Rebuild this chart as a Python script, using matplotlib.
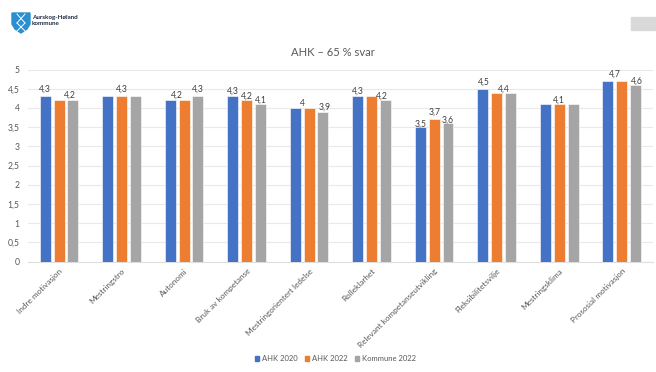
import matplotlib
matplotlib.use("Agg")
import matplotlib.pyplot as plt
from matplotlib.patches import Polygon, Rectangle

plt.rcParams['font.family'] = ['Lato', 'DejaVu Sans']

categories = ["Indre motivasjon", "Mestringstro", "Autonomi", "Bruk av kompetanse",
              "Mestringorientert ledelse", "Rolleklarhet", "Relevant kompetanseutvikling",
              "Fleksibilitetsvilje", "Mestringsklima", "Prososial motivasjon"]
ahk_2020 = [4.3, 4.3, 4.2, 4.3, 4.0, 4.3, 3.5, 4.5, 4.1, 4.7]
ahk_2022 = [4.2, 4.3, 4.2, 4.2, 4.0, 4.3, 3.7, 4.4, 4.1, 4.7]
kommune_2022 = [4.2, 4.3, 4.3, 4.1, 3.9, 4.2, 3.6, 4.4, 4.1, 4.6]
yticks = [0, 0.5, 1, 1.5, 2, 2.5, 3, 3.5, 4, 4.5, 5]

series = [("AHK 2020", ahk_2020, "#4472c4"),
          ("AHK 2022", ahk_2022, "#ed7d31"),
          ("Kommune 2022", kommune_2022, "#a5a5a5")]

# which bars carry a label: (group, value, x shift in bar pitches, y gap in points)
labels = [(0, 4.3, -1, 5.5), (0, 4.2, 0.75, 4),
          (1, 4.3, 0, 5.5),
          (2, 4.2, -0.5, 4), (2, 4.3, 1, 5.5),
          (3, 4.3, -1, 3.5), (3, 4.2, 0, 3), (3, 4.1, 1, 3),
          (4, 4.0, -0.5, 3.5), (4, 3.9, 1.1, 3.5),
          (5, 4.3, -1, 3.5), (5, 4.2, 0.75, 3),
          (6, 3.5, -0.95, 2.5), (6, 3.7, 0, 5.5), (6, 3.6, 1, 2.5),
          (7, 4.5, -0.9, 5), (7, 4.4, 0.5, 2.5),
          (8, 4.1, 0, 3),
          (9, 4.7, -0.5, 5), (9, 4.6, 1.1, 3)]

W, H = 656, 372
fig = plt.figure(figsize=(W / 100, H / 100), dpi=100)
ax = fig.add_axes([27.8 / W, 1 - 261.7 / H, 625.2 / W, 192.2 / H])

pitch = 0.221
bar_w = 0.175
for i, (name, vals, col) in enumerate(series):
    xs = [k + (i - 1) * pitch for k in range(len(vals))]
    ax.bar(xs, vals, bar_w, color=col, edgecolor="#ffffff", linewidth=0.4, zorder=3)

for group, val, shift, gap in labels:
    ax.annotate(str(val).replace(".", ",").replace(",0", ""),
                (group + shift * pitch, val), xytext=(0, gap), textcoords="offset points",
                ha="center", va="center", fontsize=6.2, color="#404040", zorder=4)

ax.set_xlim(-0.5, 9.5)
ax.set_ylim(0, 5)
ax.set_yticks(yticks)
ax.set_yticklabels([str(t).replace(".", ",").replace(",0", "") for t in yticks],
                   fontsize=6.2, color="#595959")
ax.set_xticks(range(len(categories)))
ax.set_xticklabels(categories, rotation=45, ha="right", rotation_mode="anchor",
                   fontsize=5.9, color="#595959")
ax.tick_params(axis="y", length=0, pad=6)
ax.tick_params(axis="x", length=0, pad=4)
ax.grid(axis="y", color="#e9e9e9", linewidth=0.8, zorder=0)
for s in ["top", "right", "left"]:
    ax.spines[s].set_visible(False)
ax.spines["bottom"].set_color("#dedede")

fig.text(332.5 / W, 1 - 52.7 / H, "AHK – 65 % svar", ha="center", va="center",
         fontsize=8.1, color="#595959")

# legend
for x, name, col in [(254.5, "AHK 2020", "#4472c4"), (304.5, "AHK 2022", "#ed7d31"),
                     (354.5, "Kommune 2022", "#a5a5a5")]:
    fig.add_artist(Rectangle((x / W, 1 - 360.5 / H), 4.5 / W, 4.5 / H, color=col,
                             transform=fig.transFigure))
    fig.text((x + 7) / W, 1 - 358.3 / H, name, va="center", fontsize=5.5, color="#595959")

# logo and grey box in the corner
shield = [(12, 13), (30, 13), (30, 24), (27, 29), (21, 33), (15, 29), (12, 24)]
fig.add_artist(Polygon([(x / W, 1 - y / H) for x, y in shield], color="#2a8fd0",
                       transform=fig.transFigure))
for a, b in [((17, 14), (25, 23)), ((25, 14), (17, 23)), ((17, 23), (25, 31)), ((25, 23), (17, 31))]:
    fig.add_artist(plt.Line2D([a[0] / W, b[0] / W], [1 - a[1] / H, 1 - b[1] / H], color="white",
                              linewidth=0.7, transform=fig.transFigure))
fig.text(32 / W, 1 - 17 / H, "Aurskog-Høland", va="center", fontsize=4.5,
         fontweight="bold", color="#1f2a44")
fig.text(32 / W, 1 - 23.5 / H, "kommune", va="center", fontsize=4.5,
         fontweight="bold", color="#1f2a44")
fig.add_artist(Rectangle((630.5 / W, 1 - 30 / H), 25.5 / W, 13.3 / H, color="#d9d9d9",
                         transform=fig.transFigure))

fig.savefig("out.png", dpi=100)
